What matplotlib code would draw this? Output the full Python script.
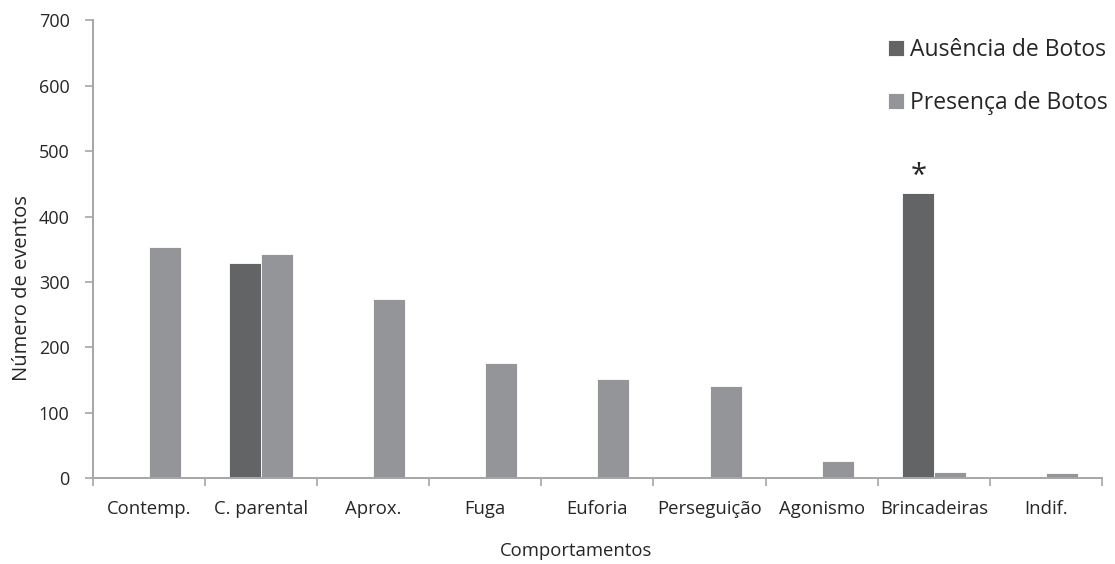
import numpy as np
import matplotlib
matplotlib.use("Agg")
import matplotlib.pyplot as plt

plt.rcParams["font.family"] = ["Open Sans", "DejaVu Sans"]

categorias = ["Contemp.", "C. parental", "Aprox.", "Fuga", "Euforia",
              "Perseguição", "Agonismo", "Brincadeiras", "Indif."]
ausencia = [0, 329, 0, 0, 0, 0, 0, 436, 0]
presenca = [354, 343, 274, 176, 152, 140, 26, 9, 8]
y_ticks = [0, 100, 200, 300, 400, 500, 600, 700]
destaque = 7  # Brincadeiras, marcado com *

cor_aus = "#636466"
cor_pres = "#949598"
cor_eixo = "#a6a6a6"
texto = "#262626"

fig = plt.figure(figsize=(11.15, 5.64), dpi=100)
ax = fig.add_axes([0.083, 0.1525, 0.9055, 0.8112])

x = np.arange(len(categorias))
w = 0.285
b1 = ax.bar(x - w / 2, ausencia, w, color=cor_aus, edgecolor="white", linewidth=0.6,
            label="Ausência de Botos")
b2 = ax.bar(x + w / 2, presenca, w, color=cor_pres, edgecolor="white", linewidth=0.6,
            label="Presença de Botos")

ax.annotate("*", (x[destaque] - w / 2, ausencia[destaque]), xytext=(0.5, 12),
            textcoords="offset points", ha="center", va="center",
            fontsize=21, color=texto)

ax.set_xlim(-0.5, len(categorias) - 0.5)
ax.set_ylim(0, 700)
ax.set_yticks(y_ticks)
ax.set_xticks(x)
ax.set_xticklabels(categorias)
ax.set_xticks(np.arange(len(categorias) + 1) - 0.5, minor=True)
ax.tick_params(axis="x", which="major", length=0, pad=16, labelsize=13.3, labelcolor=texto)
ax.tick_params(axis="x", which="minor", length=6, width=1.2, color=cor_eixo)
ax.tick_params(axis="y", length=6, width=1.2, color=cor_eixo, pad=10.5,
               labelsize=13, labelcolor=texto)

for s in ["top", "right"]:
    ax.spines[s].set_visible(False)
for s in ["left", "bottom"]:
    ax.spines[s].set_color(cor_eixo)
    ax.spines[s].set_linewidth(1.4)

fig.text(576 / 1115, 1 - 551 / 564, "Comportamentos", ha="center", va="center",
         fontsize=13.3, color=texto)
fig.text(22 / 1115, 1 - 288 / 564, "Número de eventos", rotation=90,
         ha="center", va="center", fontsize=14.5, color=texto)

ax.legend(handles=[b1, b2], loc="upper left", bbox_to_anchor=(888 / 1115, 1 - 38 / 564),
          bbox_transform=fig.transFigure, frameon=False, fontsize=16.5,
          handlelength=0.7, handleheight=0.7, handletextpad=0.25,
          labelspacing=1.25, borderaxespad=0, borderpad=0, labelcolor=texto)

fig.savefig("out.png", dpi=100)
